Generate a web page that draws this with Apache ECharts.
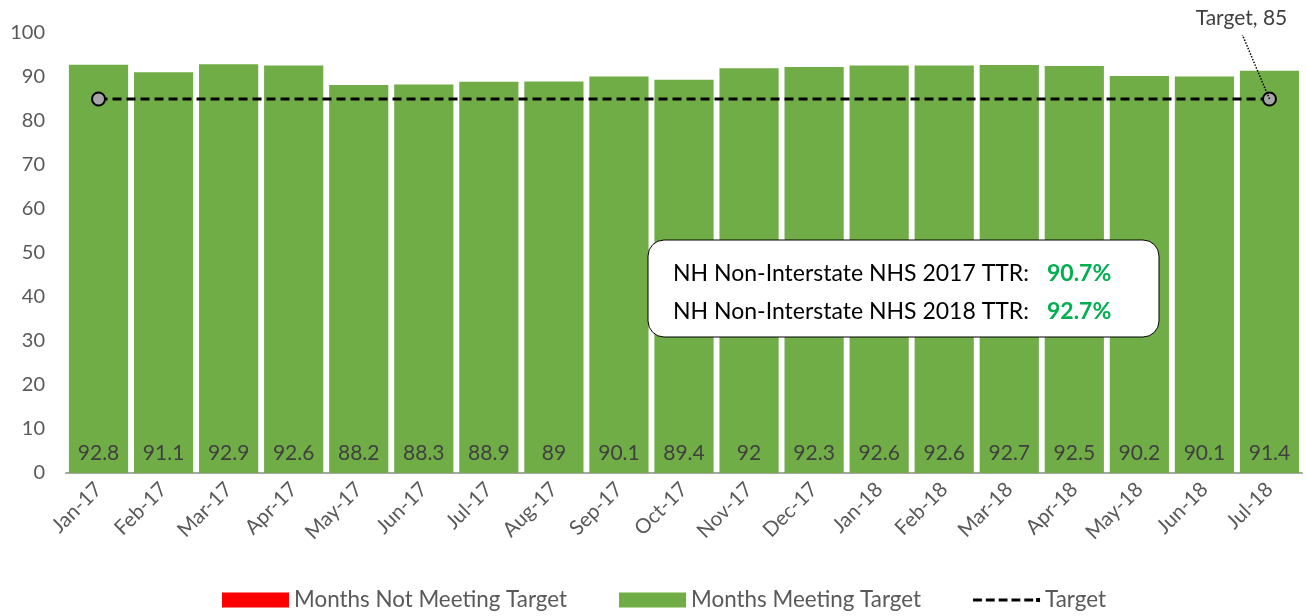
<!DOCTYPE html>
<html><head><meta charset="utf-8">
<script src="https://cdn.jsdelivr.net/npm/echarts@6/dist/echarts.min.js"></script>
<style>html,body{margin:0;padding:0;background:#fff}#c{width:1307px;height:616px}</style>
</head><body><div id="c"></div>
<script>
const categories = ['Jan-17','Feb-17','Mar-17','Apr-17','May-17','Jun-17','Jul-17','Aug-17','Sep-17','Oct-17','Nov-17','Dec-17','Jan-18','Feb-18','Mar-18','Apr-18','May-18','Jun-18','Jul-18'];
const ttrValues = [92.8,91.1,92.9,92.6,88.2,88.3,88.9,89,90.1,89.4,92,92.3,92.6,92.6,92.7,92.5,90.2,90.1,91.4];
const targetValue = 85;
const summaryLines = [['NH Non-Interstate NHS 2017 TTR:', '90.7%'], ['NH Non-Interstate NHS 2018 TTR:', '92.7%']];
const yTicks = {min: 0, max: 100, interval: 10};

const FONT = 'Lato, "Open Sans", sans-serif';
const notMeeting = ttrValues.map(v => v < targetValue ? v : null);
const meeting = ttrValues.map(v => v >= targetValue ? v : null);
const targetData = categories.map((c, i) => ({
  value: targetValue,
  symbol: (i === 0 || i === categories.length - 1) ? 'circle' : 'none'
}));
const targetIcon = 'path://M0,5h9v3h-9z M13,5h9v3h-9z M26,5h9v3h-9z M39,5h9v3h-9z M52,5h9v3h-9z M64,4.5h4v4h-4z';

const chart = echarts.init(document.getElementById('c'));
const barLabel = {show: true, position: 'insideBottom', distance: 9, color: '#404040', fontSize: 21, fontFamily: FONT};
chart.setOption({
  animation: false,
  grid: {left: 66, right: 5, top: 33, bottom: 143},
  legend: {
    left: 217, bottom: 0, itemGap: 52, itemWidth: 67, itemHeight: 15,
    textStyle: {color: '#595959', fontSize: 22.4, fontFamily: FONT},
    data: [
      {name: 'Months Not Meeting Target', icon: 'rect'},
      {name: 'Months Meeting Target', icon: 'rect'},
      {name: 'Target', icon: targetIcon, itemStyle: {color: '#000', borderWidth: 0}}
    ]
  },
  xAxis: {
    type: 'category', data: categories,
    axisLine: {lineStyle: {color: '#A6A6A6', width: 2}},
    axisTick: {show: false},
    axisLabel: {rotate: 45, color: '#595959', fontSize: 20.5, fontFamily: FONT, margin: 13, interval: 0}
  },
  yAxis: {
    type: 'value', min: yTicks.min, max: yTicks.max, interval: yTicks.interval,
    splitLine: {show: false}, axisLine: {show: false}, axisTick: {show: false},
    axisLabel: {color: '#595959', fontSize: 20, fontFamily: FONT, margin: 21}
  },
  series: [
    {name: 'Months Not Meeting Target', type: 'bar', stack: 's', data: notMeeting, barCategoryGap: '9%',
     itemStyle: {color: '#FF0000'}, label: barLabel},
    {name: 'Months Meeting Target', type: 'bar', stack: 's', data: meeting, barCategoryGap: '9%',
     itemStyle: {color: '#70AD47'}, label: barLabel},
    {name: 'Target', type: 'line', data: targetData, symbolSize: 13, z: 5,
     lineStyle: {color: '#000', width: 3, type: [9, 5]},
     itemStyle: {color: '#A6A6A6', borderColor: '#000', borderWidth: 2}}
  ]
});

const last = categories.length - 1;
const p = chart.convertToPixel({xAxisIndex: 0, yAxisIndex: 0}, [last, targetValue]);
chart.setOption({
  graphic: [
    {type: 'line', shape: {x1: p[0], y1: p[1], x2: p[0] - 27, y2: 35}, z: 10,
     style: {stroke: '#000', lineWidth: 1.5, lineDash: [1.5, 1.5]}},
    {type: 'text', x: p[0] - 28, y: 18, z: 10,
     style: {text: 'Target, ' + targetValue, fill: '#404040', fontSize: 21, fontFamily: FONT, align: 'center', verticalAlign: 'middle'}},
    {type: 'rect', shape: {x: 648, y: 240, width: 511, height: 97, r: 16}, z: 10,
     style: {fill: '#fff', stroke: '#000', lineWidth: 1}},
    {type: 'text', x: 673, y: 255, z: 11,
     style: {
       text: summaryLines.map(l => '{a|' + l[0] + '}{b|' + l[1] + '}').join('\n'),
       rich: {
         a: {fontSize: 23, fontFamily: FONT, fill: '#000', lineHeight: 38},
         b: {fontSize: 23, fontFamily: FONT, fill: '#00B050', fontWeight: 'bold', lineHeight: 38, padding: [0, 0, 0, 18]}
       }
     }}
  ]
});
</script></body></html>
